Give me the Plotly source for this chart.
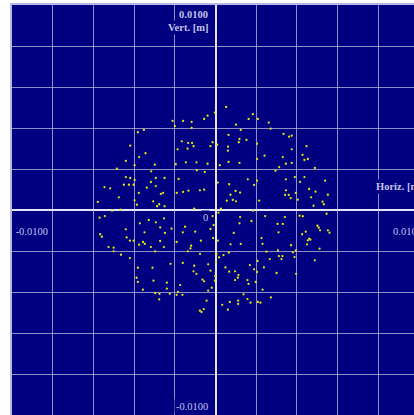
import plotly.graph_objects as go

# Beam spot footprint: horizontal / vertical particle positions in millimetres
horiz_mm = [
    -2.64, -1.99, -1.47, -0.49, -0.70, -2.50, -1.47, -4.77, -4.40, -2.07,
    -1.68, -1.44, -1.35, -5.24, -2.33, -1.72, -4.30, -4.69, -5.51, -4.97,
    -3.73, -2.44, -1.82, -1.17, -0.49, -6.06, -3.95, -1.15, -0.66, -5.51,
    -5.24, -4.97, -3.67, -3.13, -2.27, -3.97, -6.82, -6.47, -5.63, -5.32,
    -5.03, -3.67, -4.22, -3.36, -3.22, -2.38, -1.99, -1.66, -0.96, -0.70,
    -4.71, -5.94, -4.97, -3.83, -7.23, -4.83, -3.46, -3.59, -3.13, -1.31,
    0.65, -0.04, 2.29, 2.03, 2.60, 3.27, 1.26, 1.55, 3.38, 0.80,
    1.47, 1.90, 1.43, -0.18, 0.10, -0.31, 0.77, 0.76, 2.55, 4.18,
    4.52, 4.68, 5.59, 4.68, 5.34, 5.46, 5.67, 3.01, 4.13, 2.55,
    4.32, 4.68, 0.80, 1.47, 0.26, 3.91, 6.10, 3.68, 1.98, 2.55,
    4.32, 4.87, 5.46, 5.19, 6.73, 0.14, 0.84, 2.37, 4.33,
    5.75, 6.14, 1.23, 1.51, 0.92, 4.27, 4.50, 4.93, 4.62, 5.05,
    6.90, 5.87, 0.69, 1.06, 1.26, 2.68, 6.57, 6.65, 6.02, 0.33,
    -7.12, -6.80, -6.35, -5.83, -4.65, -4.10, -3.67, -3.16, -5.51, -4.36,
    -3.40, -2.70, -3.11, -1.87, -1.25, -7.09, -6.98, -5.46, -5.26, -5.03,
    -4.45, -4.34, -4.69, -3.40, -2.01, -2.39, -0.90, -6.57, -6.26, -6.26,
    -5.81, -5.26, -3.97, -3.17, -3.71, -1.50, -1.54, -1.70, -0.95, -2.76,
    -2.01, -0.45, -4.77, -3.87, -1.31, -1.35, -1.17, -4.85, -4.77, -3.81,
    -2.99, -0.80, -0.70, -2.17, -2.99, -4.46, -3.71, -3.44, -2.81,
    -2.39, -2.30, -2.03, -0.45, -3.46, -0.55, -0.96, -0.86, -0.72,
    -0.18, 0.18, 2.29, 1.51, 2.21, 3.05, 4.26, 5.16, 5.36, 6.82,
    3.81, 4.13, 1.47, -0.12, -0.31, 1.12, 3.87, 5.54, 6.26, 6.34,
    6.42, 6.90, 7.00, 5.32, 5.75, 5.83, 5.67, -0.15, 0.14, 2.82,
    2.89, 0.92, 1.55, 4.64, 5.62, 6.39, 3.13, 3.83, 4.93, 4.75,
    0.06, 0.22, 0.49, 0.82, 3.89, 4.11, 4.05, 3.33, 4.85, 6.10,
    2.58, 0.02, 0.61, 2.11, 2.97, 2.37, 2.55, -0.31, 0.84, 1.20,
    1.41, 1.37, 1.20, 3.75, 4.95, -0.02, -0.04, 1.96, 2.03, 2.47,
    -0.23, 1.72, 1.96, 2.89, 3.40, 0.41, 0.88, 1.39, 1.39, 2.15,
    2.60, 2.76, 0.76,
]

vert_mm = [
    5.43, 5.43, 5.37, 5.75, 5.55, 5.12, 5.00, 4.74, 4.88, 4.19,
    4.09, 4.09, 3.89, 3.92, 3.70, 3.74, 3.46, 3.23, 2.99, 2.73,
    2.76, 2.79, 2.91, 2.91, 2.82, 2.52, 2.36, 2.42, 2.32, 2.01,
    1.95, 1.83, 1.95, 1.95, 1.89, 1.71, 1.40, 1.32, 1.54, 1.54,
    1.54, 1.46, 1.36, 0.98, 1.04, 1.04, 1.10, 1.18, 1.20, 1.24,
    1.04, 0.77, 0.59, 0.53, 0.49, 0.32, 0.35, 0.23, 0.23, 0.08,
    6.28, 5.94, 5.84, 5.55, 5.55, 5.33, 5.20, 4.88, 4.96, 4.58,
    4.33, 4.27, 4.13, 4.13, 3.98, 3.89, 3.86, 3.62, 4.04, 4.64,
    4.47, 4.53, 3.89, 3.70, 3.36, 3.05, 3.11, 3.31, 3.23, 3.11,
    2.82, 2.87, 2.93, 2.87, 2.73, 2.62, 2.56, 2.40, 1.87, 1.79,
    1.87, 2.01, 2.01, 1.71, 1.79, 1.67, 1.57, 1.53, 1.20,
    1.28, 1.12, 1.16, 1.06, 0.93, 0.92, 0.92, 1.04, 0.73, 0.63,
    0.93, 0.77, 0.57, 0.61, 0.53, 0.57, 0.51, 0.35, 0.26, 0.08,
    -0.47, -0.37, -0.04, 0.02, -0.81, -0.61, -0.75, -0.51, -1.18, -1.36,
    -1.06, -1.14, -1.40, -1.02, -1.32, -1.48, -1.63, -1.67, -1.87, -1.87,
    -1.95, -2.07, -2.12, -1.89, -1.36, -1.95, -1.87, -2.26, -2.30, -2.52,
    -2.73, -2.93, -2.26, -2.26, -2.52, -2.18, -2.34, -2.52, -2.67, -3.28,
    -3.23, -3.31, -3.52, -3.52, -3.40, -3.74, -3.89, -4.13, -4.39, -4.31,
    -4.43, -4.25, -4.35, -4.58, -4.80, -4.86, -5.06, -5.11, -5.11,
    -5.17, -5.00, -5.17, -4.92, -5.45, -5.53, -6.14, -6.22, -6.04,
    -0.37, -0.16, -0.04, -0.43, -0.67, -0.37, -0.43, -0.35, -0.38, -0.23,
    -0.85, -0.85, -0.81, -0.92, -1.16, -1.40, -1.36, -1.32, -0.96, -1.08,
    -1.24, -1.24, -1.38, -1.48, -1.75, -1.81, -1.85, -1.71, -1.87, -1.71,
    -2.06, -2.09, -2.07, -2.15, -2.09, -2.36, -2.54, -2.46, -2.46, -2.58,
    -2.68, -2.89, -2.75, -2.60, -2.81, -2.81, -2.99, -2.99, -2.87, -3.07,
    -3.11, -3.19, -3.50, -3.36, -3.50, -3.62, -3.78, -3.70, -3.76, -3.74,
    -3.97, -4.13, -4.27, -3.84, -3.89, -4.03, -4.31, -4.27, -4.51, -4.39,
    -4.74, -5.14, -5.43, -4.86, -5.33, -5.78, -5.61, -5.53, -5.73, -5.65,
    -5.61, -5.65, -6.08,
]

assert len(horiz_mm) == len(vert_mm)

# axis limits and labels (metres)
axis_limit = 0.0125
grid_step = 0.0025
axis_max_label = "0.0100"
axis_min_label = "-0.0100"

horiz_m = [v / 1000.0 for v in horiz_mm]
vert_m = [v / 1000.0 for v in vert_mm]

NAVY = "#000080"
LABEL = "#c4c4ec"
GRID = "rgba(175,175,215,0.8)"
AXIS = "#e4e4f4"
FONT = "Liberation Serif"

fig = go.Figure(
    go.Scatter(
        x=horiz_m,
        y=vert_m,
        mode="markers",
        marker=dict(size=2.3, color="#e4e418", line=dict(width=0)),
        hoverinfo="skip",
    )
)

common_axis = dict(
    dtick=grid_step,
    tick0=0,
    showgrid=True,
    gridcolor=GRID,
    gridwidth=1.3,
    zeroline=True,
    zerolinecolor=AXIS,
    zerolinewidth=2,
    showticklabels=False,
    ticks="",
    showline=True,
    linecolor="#b8b8e8",
    linewidth=2,
    mirror=False,
    fixedrange=True,
)

fig.update_xaxes(range=[-axis_limit, 0.01219], side="top", **common_axis)
fig.update_yaxes(range=[-axis_limit, axis_limit], side="left", **common_axis)

label_font = dict(family=FONT, size=10.5, color=LABEL)

annotations = [
    # vertical axis: top value and title, right-aligned next to the axis
    dict(x=0, y=axis_limit, text="<b>" + axis_max_label + "</b>", xanchor="right",
         yanchor="middle", xshift=-6, yshift=-9),
    dict(x=0, y=axis_limit, text="<b>Vert. [m]</b>", xanchor="right",
         yanchor="middle", xshift=-6, yshift=-22),
    dict(x=0, y=0, text="0", xanchor="right", yanchor="middle",
         xshift=-6, yshift=-7),
    dict(x=0, y=-axis_limit, text=axis_min_label, xanchor="right",
         yanchor="middle", xshift=-6, yshift=9),
    # horizontal axis: min / max values and title
    dict(x=-axis_limit, y=0, text=axis_min_label, xanchor="left",
         yanchor="middle", width=34, align="right", yshift=-21),
    dict(x=0.01078, y=0, text=axis_max_label, xanchor="left",
         yanchor="middle", yshift=-21),
    dict(x=0.00974, y=0, text="<b>Horiz. [m]</b>", xanchor="left",
         yanchor="middle", yshift=24),
]
for a in annotations:
    a.update(xref="x", yref="y", showarrow=False, font=label_font,
             bgcolor=NAVY, borderpad=1)

fig.update_layout(
    width=414,
    height=415,
    margin=dict(l=12, r=0, t=5, b=0, pad=0),
    paper_bgcolor="white",
    plot_bgcolor=NAVY,
    showlegend=False,
    annotations=annotations,
)

fig.write_html("out.html", config={"displayModeBar": False})
